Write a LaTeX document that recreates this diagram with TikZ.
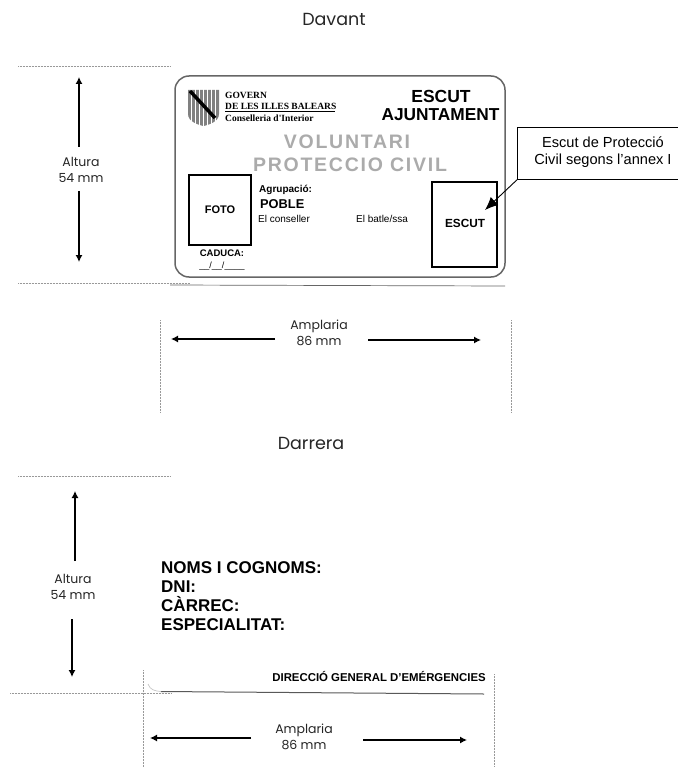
\documentclass[tikz,border=0pt]{standalone}
\usepackage{fontspec}
\setmainfont{Liberation Sans}
\newfontfamily\geo{Poppins}
\newfontfamily\logofont{Liberation Serif}
\usetikzlibrary{arrows.meta}
\definecolor{scan}{gray}{0.6}
\tikzset{
 x=1pt,y=-1pt,
 lbl/.style={font=\geo\fontsize{17.5}{20}\selectfont,align=center,text=black!85,inner sep=0},
 dim/.style={font=\geo\fontsize{12.5}{16}\selectfont,align=center,text=black!85,inner sep=0},
 txt/.style={inner sep=0,anchor=west},
 guide/.style={draw=scan,line width=0.5pt,densely dotted},
 darr/.style={line width=1.2pt,-{Latex[length=7pt,width=7pt]}},
 boxk/.style={draw=black,line width=1.2pt,fill=white,inner sep=0},
 bigb/.style={font=\bfseries\fontsize{17}{19}\selectfont,inner sep=0,anchor=north west,align=left},
 grey/.style={font=\bfseries\fontsize{19.5}{22}\selectfont,text=black!33,inner sep=0},
}
\begin{document}
\begin{tikzpicture}
\useasboundingbox (0,0) rectangle (677,767);
\fill[white] (0,0) rectangle (677,767);

\node[lbl] (davant) at (334,19) {Davant};
\node[lbl] (darrera) at (311,443) {Darrera};

% guides front
\draw[guide] (18,66) -- (170,66);
\draw[guide] (18,283) -- (190,283);
\draw[black!60,line width=0.7pt] (170,285) -- (505,286);
\draw[guide] (160,320) -- (160,412);
\draw[guide] (511,320) -- (511,412);

% front dimensions
\node[dim] (alt1) at (81,170) {Altura\\54 mm};
\coordinate (a1t) at (79,77);
\coordinate (a1b) at (79,262);
\draw[darr] (79,147) -- (a1t);
\draw[darr] (79,191) -- (a1b);
\node[dim] (amp1) at (319,333) {Amplaria\\86 mm};
\coordinate (w1l) at (171,339);
\coordinate (w1r) at (481,340);
\draw[darr] (275,339) -- (w1l);
\draw[darr] (368,340) -- (w1r);

% card
\node[draw=black!60,line width=1.5pt,rounded corners=14pt,minimum width=330pt,minimum height=201pt,inner sep=0] (card) at (340,176.5) {};

% logo
\fill[black!50] (188,90) -- (219,90) -- (219,114) .. controls (219,122) and (208,125) .. (203.5,126) .. controls (199,125) and (188,122) .. (188,114) -- cycle;
\foreach \x in {191,195,...,217} \draw[white,line width=0.8pt] (\x,89) -- (\x,127);
\draw[black,line width=3.5pt] (190,91) -- (215,118);
\node[txt,font=\logofont\bfseries\fontsize{9.5}{10}\selectfont] (gov) at (225,95) {GOVERN};
\node[txt,font=\logofont\bfseries\fontsize{9.5}{10}\selectfont] (ill) at (225,106) {DE LES ILLES BALEARS};
\draw[black,line width=0.7pt] (225,111.5) -- (335,111.5);
\node[txt,font=\logofont\bfseries\fontsize{9.5}{10}\selectfont] (cons) at (225,118) {Conselleria d'Interior};

\node[font=\bfseries\fontsize{17.5}{18}\selectfont,inner sep=0] (esc) at (441,96) {ESCUT};
\node[font=\bfseries\fontsize{17.3}{18}\selectfont,inner sep=0] (ajun) at (440.5,115) {AJUNTAMENT};

\node[grey] (vol) at (347,142) {\addfontfeature{LetterSpace=9}VOLUNTARI};
\node[grey] (pc) at (350,165) {\addfontfeature{LetterSpace=9}PROTECCIO CIVIL};

\node[boxk,minimum width=62pt,minimum height=70pt,font=\bfseries\fontsize{11}{12}\selectfont] (foto) at (220,210) {\raisebox{-2pt}{FOTO}};
\node[boxk,minimum width=65pt,minimum height=85pt,font=\bfseries\fontsize{11.8}{13}\selectfont] (escut) at (464.5,224.5) {\raisebox{2pt}{\hspace{1pt}ESCUT}};

\node[font=\bfseries\fontsize{9.5}{10}\selectfont,inner sep=0] (cad) at (222,253) {CADUCA:};
\node[font=\fontsize{9}{10}\selectfont,inner sep=0] (dat) at (222,266) {\_\_/\_\_/\_\_\_\_};

\node[txt,font=\bfseries\fontsize{10}{11}\selectfont] (agr) at (259,190) {Agrupació:};
\node[txt,font=\bfseries\fontsize{12.8}{14}\selectfont] (pob) at (260,204) {POBLE};
\node[txt,font=\fontsize{10}{11}\selectfont] (con) at (258,219) {El conseller};
\node[txt,font=\fontsize{10}{11}\selectfont] (bat) at (356,219) {El batle/ssa};

% callout
\node[draw=black,line width=0.8pt,fill=white,minimum width=165pt,minimum height=52pt,inner sep=0,anchor=north west] (call) at (517,127) {};
\node[font=\fontsize{14.6}{17}\selectfont,align=center,inner sep=0] (calltxt) at (603,152) {Escut de Protecció\\Civil segons l'annex I};
\coordinate (arrtip) at (485,210);
\draw[line width=0.9pt,-{Latex[length=13pt,width=11pt]}] (call.south west) -- (arrtip);

% back guides
\draw[guide] (18,476) -- (170,476);
\draw[guide] (10,693) -- (171,693);
\draw[guide] (143,670) -- (143,767);
\draw[guide] (494,674) -- (494,767);
\draw[black!65,line width=1pt] (161,691.5) -- (484,694);
\draw[black!25,line width=0.6pt] (148,684) .. controls (150,690) and (155,691) .. (161,691.5);

% back dimensions
\node[dim] (alt2) at (73,587) {Altura\\54 mm};
\coordinate (a2t) at (75,491);
\coordinate (a2b) at (72,677);
\draw[darr] (75,561) -- (a2t);
\draw[darr] (72,619) -- (a2b);
\node[dim] (amp2) at (304,737) {Amplaria\\86 mm};
\coordinate (w2l) at (150,738);
\coordinate (w2r) at (467,740);
\draw[darr] (251,738) -- (w2l);
\draw[darr] (363,740) -- (w2r);

\node[bigb] (noms) at (161,561) {NOMS I COGNOMS:\\DNI:\\CÀRREC:\\ESPECIALITAT:};
\node[font=\bfseries\fontsize{11.4}{12}\selectfont,inner sep=0,anchor=east] (dge) at (486,676) {DIRECCIÓ GENERAL D'EMÉRGENCIES};
\end{tikzpicture}
\end{document}
